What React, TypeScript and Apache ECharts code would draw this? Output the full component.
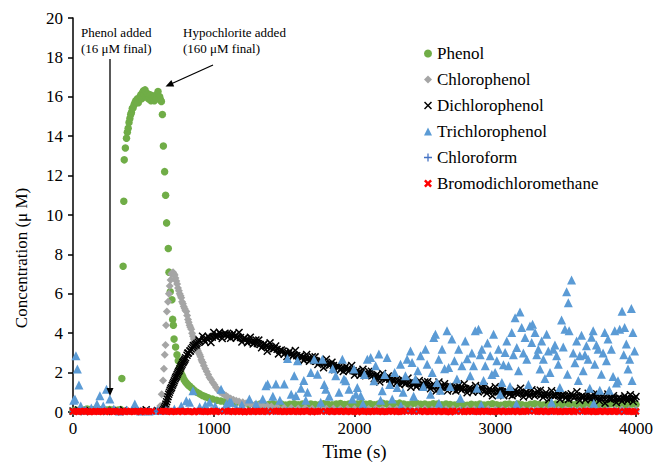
import React, { useEffect, useRef } from "react";
import * as echarts from "echarts";

const FONT = "Liberation Serif";

const xTicks = [0, 1000, 2000, 3000, 4000];
const yTicks = [0, 2, 4, 6, 8, 10, 12, 14, 16, 18, 20];
const seriesNames = ["Phenol", "Chlorophenol", "Dichlorophenol", "Trichlorophenol", "Chloroform", "Bromodichloromethane"];

// [time (s), concentration (µM)]
const phenol: [number, number][] = [
  [0, 0.05], [20, 0.1], [40, 0.08], [60, 0.12], [80, 0.1], [100, 0.15], [120, 0.12], [140, 0.1], [160, 0.14], [180, 0.1],
  [200, 0.12], [220, 0.08], [240, 0.1], [260, 0.12], [280, 0.1], [300, 0.08], [320, 0.1], [340, 0.12],
  [347, 1.7], [356, 7.4], [361, 10.7], [364, 12.8], [372, 13.4], [380, 13.9], [386, 14.2], [392, 14.4], [398, 14.7], [404, 14.9],
  [410, 15.1], [415, 15.2], [421, 15.4], [427, 15.45], [434, 15.6], [440, 15.7], [446, 15.8], [452, 15.75], [458, 15.9], [464, 15.7],
  [470, 15.9], [476, 16.0], [482, 16.1], [488, 15.9], [494, 16.2], [500, 16.3], [506, 16.1], [512, 16.35], [518, 16.2], [524, 16.0],
  [530, 16.15], [536, 15.9], [542, 16.0], [548, 16.1], [554, 15.8], [560, 15.9], [566, 16.05], [572, 15.9], [578, 15.8], [584, 16.0],
  [590, 15.9], [596, 16.1], [604, 16.27], [610, 15.95], [616, 16.0], [622, 15.85], [628, 15.76], [635, 15.1], [642, 13.5], [651, 12.2],
  [658, 11.0], [665, 9.6], [677, 8.3], [682, 7.1], [691, 6.1], [703, 5.7], [708, 4.7], [713, 4.4], [718, 3.7], [729, 3.3],
  [739, 2.9], [748, 2.6], [757, 2.25], [766, 2.0], [775, 1.85], [781, 1.76], [790, 1.62], [800, 1.52], [810, 1.44], [820, 1.36],
  [830, 1.3], [845, 1.2], [860, 1.1], [880, 1.0], [900, 0.92], [920, 0.84], [940, 0.78], [960, 0.72], [990, 0.66], [1020, 0.6],
  [1050, 0.56], [1080, 0.52], [1110, 0.49], [1150, 0.45], [1200, 0.42], [1250, 0.38],
  [1300, 0.36], [1330, 0.4], [1360, 0.34], [1390, 0.38], [1420, 0.42], [1450, 0.36], [1480, 0.4], [1510, 0.35], [1540, 0.39], [1570, 0.42],
  [1600, 0.37], [1630, 0.4], [1660, 0.35], [1690, 0.41], [1720, 0.38], [1750, 0.36], [1780, 0.42], [1810, 0.39], [1840, 0.36], [1870, 0.4],
  [1900, 0.43], [1930, 0.38], [1960, 0.41], [1990, 0.36], [2020, 0.4], [2050, 0.44], [2080, 0.39], [2110, 0.42], [2140, 0.37], [2170, 0.41],
  [2200, 0.44], [2230, 0.4], [2260, 0.38], [2290, 0.42], [2320, 0.45], [2350, 0.4], [2380, 0.37], [2410, 0.42], [2440, 0.44], [2470, 0.39],
  [2500, 0.41], [2530, 0.37], [2560, 0.42], [2590, 0.4], [2620, 0.36], [2650, 0.41], [2680, 0.38], [2710, 0.35], [2740, 0.4], [2770, 0.37],
  [2800, 0.34], [2830, 0.39], [2860, 0.36], [2890, 0.4], [2920, 0.35], [2950, 0.38], [2980, 0.42], [3010, 0.37], [3040, 0.34], [3070, 0.39],
  [3100, 0.41], [3130, 0.36], [3160, 0.4], [3190, 0.37], [3220, 0.34], [3250, 0.39], [3280, 0.42], [3310, 0.38], [3340, 0.35], [3370, 0.4],
  [3400, 0.37], [3430, 0.41], [3460, 0.36], [3490, 0.39], [3520, 0.42], [3550, 0.37], [3580, 0.4], [3610, 0.36], [3640, 0.39], [3670, 0.41],
  [3700, 0.37], [3730, 0.4], [3760, 0.35], [3790, 0.39], [3820, 0.42], [3850, 0.38], [3880, 0.4], [3910, 0.36], [3940, 0.39], [3970, 0.41], [4000, 0.38],
];

const chlorophenol: [number, number][] = [
  [600, 0.05], [612, 0.15], [620, 0.3], [630, 0.9], [640, 1.6], [646, 2.2], [652, 2.9], [657, 3.4], [661, 4.4], [667, 5.1],
  [675, 5.6], [681, 6.0], [687, 6.4], [693, 6.7], [699, 7.0], [705, 7.05], [711, 7.1], [717, 7.0], [722, 6.95], [728, 6.8],
  [734, 6.65], [740, 6.5], [746, 6.3], [752, 6.15], [758, 6.0], [764, 5.9], [769, 5.8], [775, 5.6], [781, 5.5], [787, 5.35],
  [793, 5.25], [799, 5.15], [805, 5.1], [811, 4.9], [817, 4.7], [822, 4.55], [828, 4.4], [834, 4.3], [840, 4.2], [846, 4.0],
  [852, 3.85], [858, 3.7], [864, 3.6], [870, 3.45], [876, 3.36], [882, 3.2], [888, 3.1], [894, 3.0], [900, 2.9], [906, 2.8],
  [912, 2.65], [918, 2.55], [923, 2.5], [930, 2.35], [940, 2.2], [950, 2.05], [960, 1.9], [970, 1.75], [980, 1.65], [993, 1.5],
  [1005, 1.38], [1017, 1.25], [1030, 1.12], [1045, 1.02], [1060, 0.95], [1075, 0.88], [1088, 0.83], [1100, 0.76], [1120, 0.68], [1140, 0.62],
  [1160, 0.57], [1180, 0.53], [1206, 0.49], [1230, 0.44], [1260, 0.4], [1290, 0.36], [1320, 0.34], [1350, 0.32], [1380, 0.3], [1410, 0.28],
  [1450, 0.25], [1500, 0.22], [1550, 0.2], [1600, 0.18], [1650, 0.2], [1700, 0.17], [1750, 0.19], [1800, 0.16], [1850, 0.18], [1900, 0.15],
  [1950, 0.17], [2000, 0.16], [2050, 0.18], [2100, 0.15], [2150, 0.17], [2200, 0.14], [2250, 0.16], [2300, 0.15], [2350, 0.17], [2400, 0.14],
  [2450, 0.16], [2500, 0.15], [2550, 0.13], [2600, 0.16], [2650, 0.14], [2700, 0.15], [2750, 0.13], [2800, 0.15], [2850, 0.14], [2900, 0.12],
  [2950, 0.15], [3000, 0.13], [3050, 0.14], [3100, 0.12], [3150, 0.14], [3200, 0.13], [3250, 0.12], [3300, 0.14], [3350, 0.12], [3400, 0.13],
  [3450, 0.11], [3500, 0.13], [3550, 0.12], [3600, 0.11], [3650, 0.13], [3700, 0.12], [3750, 0.1], [3800, 0.12], [3850, 0.11], [3900, 0.12],
  [3950, 0.1], [4000, 0.12],
];

const dichlorophenol: [number, number][] = [
  [0, 0.05], [40, 0.1], [80, 0.02], [120, 0.08], [160, 0.05], [200, 0.1], [240, 0.03], [280, 0.07], [320, 0.05], [360, 0.1],
  [400, 0.04], [440, 0.08], [480, 0.06], [520, 0.12], [560, 0.05], [600, 0.08],
  [640, 0.05], [645, 0.12], [650, 0.2], [655, 0.3], [660, 0.4], [665, 0.52], [670, 0.65], [675, 0.78], [680, 0.9], [685, 1.0],
  [690, 1.1], [695, 1.18], [700, 1.25], [705, 1.35], [710, 1.42], [715, 1.5], [720, 1.58], [725, 1.68], [730, 1.75], [735, 1.82],
  [740, 1.9], [745, 1.98], [750, 2.05], [755, 2.12], [760, 2.2], [765, 2.28], [770, 2.35], [775, 2.42], [780, 2.5], [785, 2.55],
  [790, 2.62], [795, 2.68], [800, 2.75], [810, 2.88], [820, 3.0], [830, 3.1], [840, 3.2], [850, 3.28], [860, 3.35], [870, 3.42],
  [880, 3.48], [890, 3.54], [900, 3.6], [815, 2.98], [835, 3.1], [855, 3.38], [875, 3.4], [895, 3.66],
  [920, 3.85], [940, 3.55], [960, 3.84], [980, 3.53], [1000, 4.04], [1020, 3.81], [1040, 4.05], [1060, 3.73], [1080, 4.0], [1100, 3.82],
  [1120, 3.74], [1140, 4.0], [1160, 3.76], [1180, 4.04], [1200, 3.55], [1220, 3.76], [1240, 3.51], [1260, 3.8], [1280, 3.45], [1300, 3.66],
  [1320, 3.65], [1340, 3.26], [1360, 3.47], [1380, 3.08], [1400, 3.51], [1420, 3.2], [1440, 3.35], [1460, 2.95], [1480, 3.15], [1500, 2.93],
  [1520, 2.82], [1540, 3.08], [1560, 2.84], [1580, 3.12], [1600, 2.64], [1620, 2.86], [1640, 2.62], [1660, 2.92], [1680, 2.58], [1700, 2.8],
  [1720, 2.8], [1740, 2.41], [1760, 2.62], [1780, 2.24], [1800, 2.68], [1820, 2.37], [1840, 2.53], [1860, 2.14], [1880, 2.35], [1900, 2.14],
  [1920, 2.05], [1940, 2.32], [1960, 2.08], [1980, 2.36], [2000, 1.88], [2020, 2.1], [2040, 1.86], [2060, 2.17], [2080, 1.84], [2100, 2.06],
  [2120, 2.07], [2140, 1.69], [2160, 1.9], [2180, 1.52], [2200, 1.96], [2220, 1.66], [2240, 1.83], [2260, 1.45], [2280, 1.67], [2300, 1.47],
  [2320, 1.38], [2340, 1.65], [2360, 1.42], [2380, 1.72], [2400, 1.26], [2420, 1.5], [2440, 1.28], [2460, 1.6], [2480, 1.28], [2500, 1.52],
  [2520, 1.54], [2540, 1.18], [2560, 1.42], [2580, 1.06], [2600, 1.52], [2620, 1.24], [2640, 1.43], [2660, 1.07], [2680, 1.31], [2700, 1.13],
  [2720, 1.06], [2740, 1.34], [2760, 1.12], [2780, 1.43], [2800, 0.98], [2820, 1.22], [2840, 1.01], [2860, 1.34], [2880, 1.02], [2900, 1.27],
  [2920, 1.3], [2940, 0.94], [2960, 1.18], [2980, 0.82], [3000, 1.28], [3020, 1.0], [3040, 1.19], [3060, 0.83], [3080, 1.07], [3100, 0.89],
  [3120, 0.82], [3140, 1.11], [3160, 0.9], [3180, 1.21], [3200, 0.76], [3220, 1.01], [3240, 0.8], [3260, 1.13], [3280, 0.82], [3300, 1.07],
  [3320, 1.1], [3340, 0.74], [3360, 0.98], [3380, 0.62], [3400, 1.08], [3420, 0.8], [3440, 0.99], [3460, 0.64], [3480, 0.88], [3500, 0.71],
  [3520, 0.64], [3540, 0.93], [3560, 0.72], [3580, 1.03], [3600, 0.58], [3620, 0.83], [3640, 0.62], [3660, 0.95], [3680, 0.64], [3700, 0.9],
  [3720, 0.93], [3740, 0.57], [3760, 0.81], [3780, 0.45], [3800, 0.92], [3820, 0.64], [3840, 0.83], [3860, 0.48], [3880, 0.72], [3900, 0.55],
  [3920, 0.82], [3940, 0.57], [3960, 0.88], [3980, 0.53], [4000, 0.79],
  [930, 3.67], [950, 3.72], [970, 3.76], [990, 3.8], [1010, 3.84], [1030, 3.88], [1050, 3.92], [1070, 3.94], [1090, 3.95], [1110, 3.93],
  [1130, 3.9], [1150, 3.86], [1170, 3.82], [1190, 3.78], [1210, 3.72], [1230, 3.68], [1250, 3.62], [1270, 3.58], [1290, 3.52], [1310, 3.48],
  [1330, 3.43], [1350, 3.39], [1370, 3.35], [1390, 3.31], [1410, 3.27], [1430, 3.22], [1450, 3.18], [1470, 3.12], [1490, 3.08], [1510, 3.02],
  [1530, 2.98], [1550, 2.94], [1570, 2.9], [1590, 2.86], [1610, 2.82], [1630, 2.78], [1650, 2.74], [1670, 2.7], [1690, 2.66], [1710, 2.62],
  [1730, 2.58], [1750, 2.54], [1770, 2.5], [1790, 2.47], [1810, 2.44], [1830, 2.4], [1850, 2.36], [1870, 2.32], [1890, 2.28], [1910, 2.24],
  [1930, 2.21], [1950, 2.18], [1970, 2.14], [1990, 2.1], [2010, 2.06], [2030, 2.02], [2050, 1.98], [2070, 1.95], [2090, 1.92], [2110, 1.88],
  [2130, 1.85], [2150, 1.82], [2170, 1.78], [2190, 1.75], [2210, 1.72], [2230, 1.7], [2250, 1.66], [2270, 1.63], [2290, 1.6], [2310, 1.58],
  [2330, 1.55], [2350, 1.52], [2370, 1.49], [2390, 1.47], [2410, 1.45], [2430, 1.43], [2450, 1.41], [2470, 1.39], [2490, 1.37], [2510, 1.35],
  [2530, 1.33], [2550, 1.32], [2570, 1.31], [2590, 1.3], [2610, 1.29], [2630, 1.28], [2650, 1.27], [2670, 1.26], [2690, 1.25], [2710, 1.24],
  [2730, 1.23], [2750, 1.21], [2770, 1.2], [2790, 1.18], [2810, 1.17], [2830, 1.15], [2850, 1.14], [2870, 1.13], [2890, 1.11], [2910, 1.1],
  [2930, 1.09], [2950, 1.08], [2970, 1.07], [2990, 1.06], [3010, 1.05], [3030, 1.04], [3050, 1.03], [3070, 1.02], [3090, 1.01], [3110, 1.0],
  [3130, 0.99], [3150, 0.98], [3170, 0.97], [3190, 0.96], [3210, 0.95], [3230, 0.94], [3250, 0.93], [3270, 0.92], [3290, 0.91], [3310, 0.9],
  [3330, 0.89], [3350, 0.88], [3370, 0.87], [3390, 0.86], [3410, 0.85], [3430, 0.85], [3450, 0.84], [3470, 0.83], [3490, 0.83], [3510, 0.82],
  [3530, 0.81], [3550, 0.8], [3570, 0.79], [3590, 0.78], [3610, 0.77], [3630, 0.76], [3650, 0.75], [3670, 0.75], [3690, 0.74], [3710, 0.73],
  [3730, 0.72], [3750, 0.71], [3770, 0.7], [3790, 0.7], [3810, 0.69], [3830, 0.68], [3850, 0.68], [3870, 0.67], [3890, 0.67], [3910, 0.67],
  [3930, 0.67], [3950, 0.68], [3970, 0.68], [3990, 0.69],
];

const trichlorophenol: [number, number][] = [
  [5, 0.6], [14, 0.66], [21, 2.85], [31, 2.18], [42, 1.37], [55, 0.3], [90, 0.1], [130, 0.2], [170, 0.4], [191, 0.83],
  [215, 0.3], [238, 1.16], [262, 0.66], [290, 0.15], [330, 0.05], [380, 0.1], [439, 0.4], [480, 0.05], [540, 0.05], [600, 0.08],
  [660, 0.1], [720, 0.15], [769, 0.3], [805, 0.57], [828, 0.5], [852, 1.08], [900, 0.25], [940, 0.35], [970, 0.5], [1010, 0.3],
  [1052, 1.16], [1090, 0.4], [1112, 0.5], [1123, 0.49], [1160, 0.2], [1200, 0.35], [1253, 0.66], [1300, 0.4], [1348, 0.66], [1371, 1.33],
  [1383, 1.42], [1420, 0.8], [1442, 1.42], [1470, 0.6], [1501, 1.42], [1524, 2.72], [1550, 0.9], [1572, 1.84], [1584, 0.83], [1595, 2.6],
  [1620, 1.2], [1640, 1.6], [1654, 0.6], [1666, 1.0], [1690, 2.0], [1713, 2.68], [1737, 1.92], [1760, 0.5], [1772, 2.68], [1785, 1.4],
  [1796, 1.16], [1820, 0.8], [1845, 2.2], [1867, 1.84], [1890, 1.0], [1914, 2.68], [1925, 1.67], [1938, 1.59], [1961, 1.16], [1985, 0.66],
  [1996, 2.18], [2010, 0.9], [2020, 1.25], [2044, 0.83], [2060, 0.4], [2070, 1.9], [2091, 2.68], [2115, 2.77], [2138, 1.59], [2150, 2.35],
  [2173, 2.94], [2185, 0.6], [2197, 1.08], [2215, 1.9], [2232, 2.77], [2250, 1.4], [2268, 0.66], [2285, 2.0], [2303, 1.25], [2327, 2.43],
  [2330, 0.3], [2345, 1.0], [2362, 1.84], [2374, 2.68], [2398, 3.1], [2409, 2.51], [2420, 0.8], [2433, 1.67], [2450, 2.1], [2469, 2.85],
  [2490, 1.3], [2504, 3.19], [2516, 2.43], [2540, 0.9], [2552, 2.0], [2563, 3.78], [2575, 3.95], [2586, 1.5], [2598, 2.68], [2600, 0.45],
  [2610, 1.1], [2622, 3.19], [2640, 2.2], [2657, 4.12], [2669, 2.26], [2680, 1.3], [2692, 3.7], [2710, 2.6], [2728, 1.67], [2740, 3.19],
  [2752, 0.7], [2763, 2.35], [2787, 3.61], [2800, 2.7], [2822, 1.84], [2834, 3.0], [2846, 2.35], [2858, 4.12], [2870, 1.2], [2881, 4.2],
  [2893, 2.9], [2900, 0.35], [2905, 3.19], [2917, 1.6], [2929, 2.35], [2945, 3.5], [2964, 2.85], [2976, 1.9], [2988, 3.95], [2999, 2.0],
  [3011, 2.6], [3023, 3.19], [3035, 0.9], [3047, 1.5], [3058, 2.4], [3070, 3.02], [3082, 3.6], [3094, 2.35], [3105, 1.3], [3117, 4.03],
  [3129, 2.9], [3141, 4.79], [3150, 0.4], [3153, 3.27], [3165, 2.1], [3176, 5.08], [3188, 4.29], [3200, 3.0], [3212, 3.78], [3224, 2.68],
  [3236, 1.4], [3247, 4.37], [3259, 3.53], [3265, 4.46], [3283, 4.03], [3295, 2.9], [3306, 3.19], [3318, 2.18], [3330, 3.6], [3342, 2.68],
  [3353, 1.7], [3365, 3.95], [3377, 3.1], [3389, 2.0], [3400, 0.5], [3412, 3.19], [3424, 3.4], [3436, 2.85], [3448, 2.43], [3459, 1.25],
  [3471, 4.67], [3483, 3.3], [3495, 4.2], [3507, 6.11], [3513, 1.92], [3519, 5.55], [3525, 4.12], [3542, 6.7], [3554, 3.0], [3566, 2.5],
  [3578, 3.61], [3590, 1.6], [3601, 2.85], [3613, 3.9], [3625, 2.1], [3637, 2.9], [3648, 3.36], [3660, 2.68], [3672, 1.2], [3684, 3.8],
  [3696, 4.12], [3700, 0.45], [3707, 2.43], [3719, 3.4], [3731, 3.19], [3743, 1.1], [3754, 1.92], [3766, 3.0], [3778, 4.03], [3790, 2.6],
  [3801, 3.7], [3810, 1.1], [3825, 3.19], [3837, 1.8], [3849, 4.12], [3861, 1.47], [3872, 1.59], [3884, 4.2], [3901, 5.11], [3913, 2.9],
  [3919, 4.29], [3931, 3.45], [3943, 2.18], [3955, 2.68], [3967, 5.25], [3972, 1.6], [3978, 4.03], [3990, 3.1],
];

// sampling times for the two trace by-products (s)
const sampleTimes = [
  0, 20, 40, 60, 80, 100, 120, 140, 160, 180,
  200, 220, 240, 260, 280, 300, 320, 340, 360, 380,
  400, 420, 440, 460, 480, 500, 520, 540, 560, 580,
  600, 620, 640, 660, 680, 700, 720, 740, 760, 780,
  800, 820, 840, 860, 880, 900, 920, 940, 960, 980,
  1000, 1020, 1040, 1060, 1080, 1100, 1120, 1140, 1160, 1180,
  1200, 1220, 1240, 1260, 1280, 1300, 1320, 1340, 1360, 1380,
  1400, 1420, 1440, 1460, 1480, 1500, 1520, 1540, 1560, 1580,
  1600, 1620, 1640, 1660, 1680, 1700, 1720, 1740, 1760, 1780,
  1800, 1820, 1840, 1860, 1880, 1900, 1920, 1940, 1960, 1980,
  2000, 2020, 2040, 2060, 2080, 2100, 2120, 2140, 2160, 2180,
  2200, 2220, 2240, 2260, 2280, 2300, 2320, 2340, 2360, 2380,
  2400, 2420, 2440, 2460, 2480, 2500, 2520, 2540, 2560, 2580,
  2600, 2620, 2640, 2660, 2680, 2700, 2720, 2740, 2760, 2780,
  2800, 2820, 2840, 2860, 2880, 2900, 2920, 2940, 2960, 2980,
  3000, 3020, 3040, 3060, 3080, 3100, 3120, 3140, 3160, 3180,
  3200, 3220, 3240, 3260, 3280, 3300, 3320, 3340, 3360, 3380,
  3400, 3420, 3440, 3460, 3480, 3500, 3520, 3540, 3560, 3580,
  3600, 3620, 3640, 3660, 3680, 3700, 3720, 3740, 3760, 3780,
  3800, 3820, 3840, 3860, 3880, 3900, 3920, 3940, 3960, 3980,
  4000,
];

const chloroformValues = [
  0.03, 0.05, 0.02, 0.04, 0.06, 0.03, 0.05, 0.02, 0.04, 0.03,
  0.05, 0.02, 0.04, 0.06, 0.03, 0.05, 0.03, 0.04, 0.02, 0.05,
  0.03, 0.06, 0.04, 0.02, 0.05, 0.03, 0.04, 0.06, 0.03, 0.05,
  0.04, 0.06, 0.03, 0.05, 0.02, 0.04, 0.06, 0.03, 0.05, 0.04,
  0.02, 0.05, 0.03, 0.06, 0.04, 0.03, 0.05, 0.02, 0.04, 0.06,
  0.03, 0.05, 0.04, 0.06, 0.02, 0.05, 0.03, 0.04, 0.06, 0.03,
  0.05, 0.02, 0.04, 0.06, 0.03, 0.05, 0.04, 0.02, 0.05, 0.03,
  0.06, 0.04, 0.03, 0.05, 0.02, 0.04, 0.06, 0.03, 0.05, 0.04,
  0.02, 0.05, 0.03, 0.06, 0.04, 0.03, 0.05, 0.02, 0.06, 0.04,
  0.03, 0.05, 0.04, 0.02, 0.06, 0.03, 0.05, 0.04, 0.02, 0.05,
  0.03, 0.06, 0.04, 0.03, 0.05, 0.02, 0.04, 0.06, 0.03, 0.05,
  0.04, 0.02, 0.05, 0.03, 0.06, 0.04, 0.03, 0.05, 0.02, 0.06,
  0.04, 0.03, 0.05, 0.04, 0.02, 0.06, 0.03, 0.05, 0.04, 0.02,
  0.05, 0.03, 0.06, 0.04, 0.03, 0.05, 0.02, 0.04, 0.06, 0.03,
  0.05, 0.04, 0.02, 0.05, 0.03, 0.06, 0.04, 0.03, 0.05, 0.02,
  0.04, 0.06, 0.03, 0.05, 0.04, 0.02, 0.05, 0.03, 0.06, 0.04,
  0.03, 0.05, 0.02, 0.04, 0.06, 0.03, 0.05, 0.04, 0.02, 0.05,
  0.03, 0.06, 0.04, 0.03, 0.05, 0.02, 0.04, 0.06, 0.03, 0.05,
  0.04, 0.02, 0.05, 0.03, 0.06, 0.04, 0.03, 0.05, 0.02, 0.06,
  0.04, 0.03, 0.05, 0.04, 0.02, 0.06, 0.03, 0.05, 0.04, 0.02,
  0.05,
];

const bromodichloromethaneValues: (number | null)[] = [
  0.02, 0.04, 0.01, 0.03, 0.05, 0.02, 0.0, 0.03, 0.04, 0.01,
  0.03, 0.02, 0.05, 0.01, 0.03, 0.04, 0.02, 0.0, 0.03, 0.05,
  0.01, 0.03, 0.02, 0.04, 0.01, 0.05, 0.03, 0.02, 0.04, null,
  null, 0.03, 0.05, 0.02, 0.04, 0.01, 0.03, 0.02, 0.05, 0.01,
  0.04, 0.02, 0.03, 0.0, 0.05, 0.02, 0.04, 0.01, 0.03, 0.02,
  0.05, 0.01, 0.03, null, 0.04, 0.02, 0.05, 0.01, 0.03, 0.04,
  0.02, 0.0, 0.03, 0.05, 0.01, 0.04, 0.02, 0.03, 0.05, 0.01,
  null, 0.04, 0.02, 0.05, 0.03, 0.01, 0.04, 0.02, 0.03, 0.05,
  0.01, 0.03, 0.04, 0.02, 0.05, 0.0, 0.03, 0.02, 0.04, null,
  0.03, 0.05, 0.01, 0.04, 0.02, 0.03, 0.05, 0.01, 0.04, 0.02,
  0.03, 0.0, 0.05, 0.02, 0.04, 0.01, 0.03, 0.05, 0.02, 0.04,
  0.01, 0.03, 0.02, 0.05, 0.04, 0.01, 0.03, 0.02, 0.05, null,
  0.04, 0.02, null, 0.03, 0.05, 0.01, 0.04, 0.02, 0.03, 0.05,
  0.01, 0.04, 0.02, 0.03, 0.0, 0.05, 0.02, null, 0.04, 0.01,
  0.03, 0.05, 0.02, 0.04, 0.01, 0.03, 0.05, 0.02, 0.04, 0.01,
  0.03, 0.02, 0.05, 0.01, 0.04, 0.03, 0.02, 0.05, 0.01, 0.04,
  0.02, 0.03, 0.05, null, 0.04, 0.02, 0.03, 0.05, 0.01, 0.04,
  0.02, 0.05, 0.03, 0.01, 0.04, 0.02, 0.03, 0.05, 0.01, 0.04,
  null, 0.03, 0.05, 0.02, 0.04, 0.01, 0.03, 0.02, 0.05, 0.01,
  0.04, 0.02, 0.03, 0.05, 0.01, null, 0.02, 0.04, 0.03, 0.01,
  0.03,
];

const colors = ["#70AD47", "#A5A5A5", "#000000", "#5B9BD5", "#4472C4", "#FF0000"];

const X_THIN = "path://M0,1.3L1.3,0L5,3.7L8.7,0L10,1.3L6.3,5L10,8.7L8.7,10L5,6.3L1.3,10L0,8.7L3.7,5Z";
const PLUS = "path://M4.2,0H5.8V4.2H10V5.8H5.8V10H4.2V5.8H0V4.2H4.2Z";
const X_THICK = "path://M0,2.2L2.2,0L5,2.8L7.8,0L10,2.2L7.2,5L10,7.8L7.8,10L5,7.2L2.2,10L0,7.8L2.8,5Z";

const pairs = (times: number[], vals: (number | null)[]) =>
  times.map((t, i) => [t, vals[i]]).filter((p) => p[1] !== null);

export default function App() {
  const ref = useRef<HTMLDivElement>(null);

  useEffect(() => {
    const chart = echarts.init(ref.current!, null, { renderer: "svg" });
    const axisText = { color: "#000", fontFamily: FONT, fontSize: 17 };
    const mk = (i: number, data: any[], symbol: string, size: number) => ({
      name: seriesNames[i],
      type: "scatter",
      data,
      symbol,
      symbolSize: size,
      itemStyle: { color: colors[i], opacity: 1 },
      emphasis: { disabled: true },
    });
    chart.setOption({
      animation: false,
      backgroundColor: "#fff",
      textStyle: { fontFamily: FONT },
      grid: { left: 73, right: 18, top: 18, bottom: 53, containLabel: false },
      xAxis: {
        type: "value",
        min: xTicks[0],
        max: xTicks[xTicks.length - 1],
        interval: xTicks[1] - xTicks[0],
        name: "Time (s)",
        nameLocation: "middle",
        nameGap: 30,
        nameTextStyle: { ...axisText, fontSize: 19 },
        axisLine: { show: true, onZero: false, lineStyle: { color: "#000", width: 1.5 } },
        axisTick: { show: true, inside: false, length: 5, lineStyle: { color: "#000", width: 1.5 } },
        axisLabel: { ...axisText, margin: 8, formatter: (v: number) => String(v) },
        splitLine: { show: false },
      },
      yAxis: {
        type: "value",
        min: yTicks[0],
        max: yTicks[yTicks.length - 1],
        interval: yTicks[1] - yTicks[0],
        axisLine: { show: true, onZero: false, lineStyle: { color: "#000", width: 1.5 } },
        axisTick: { show: true, inside: false, length: 5, lineStyle: { color: "#000", width: 1.5 } },
        axisLabel: { ...axisText, margin: 10, formatter: (v: number) => String(v) },
        splitLine: { show: false },
      },
      legend: {
        orient: "vertical",
        left: 419,
        top: 40,
        itemGap: 9,
        itemWidth: 8,
        itemHeight: 8,
        selectedMode: false,
        textStyle: { color: "#000", fontFamily: FONT, fontSize: 17 },
        data: seriesNames,
      },
      series: [
        mk(0, phenol, "circle", 7.5),
        mk(1, chlorophenol, "diamond", 8),
        mk(2, dichlorophenol, X_THIN, 8),
        mk(3, trichlorophenol, "triangle", 9),
        mk(4, pairs(sampleTimes, chloroformValues), PLUS, 7),
        mk(5, pairs(sampleTimes, bromodichloromethaneValues), X_THICK, 7.5),
      ],
      graphic: [
        {
          type: "text", x: 21, y: 258, rotation: Math.PI / 2, z: 100,
          style: { text: "Concentration (μ M)", fill: "#000", font: `17px ${FONT}`, align: "center", verticalAlign: "middle" },
        },
        { type: "text", x: 81, y: 32, z: 100, style: { text: "Phenol added", fill: "#000", font: `13px ${FONT}`, verticalAlign: "middle" } },
        { type: "text", x: 81, y: 48, z: 100, style: { text: "(16 μM final)", fill: "#000", font: `13px ${FONT}`, verticalAlign: "middle" } },
        { type: "text", x: 183, y: 32, z: 100, style: { text: "Hypochlorite added", fill: "#000", font: `13px ${FONT}`, verticalAlign: "middle" } },
        { type: "text", x: 183, y: 48, z: 100, style: { text: "(160 μM final)", fill: "#000", font: `13px ${FONT}`, verticalAlign: "middle" } },
        { type: "line", z: 100, shape: { x1: 110, y1: 59, x2: 110, y2: 390 }, style: { stroke: "#000", lineWidth: 1.3 } },
        { type: "polygon", z: 100, shape: { points: [[106.5, 388], [113.5, 388], [110, 396]] }, style: { fill: "#000" } },
        { type: "line", z: 100, shape: { x1: 213, y1: 65, x2: 172, y2: 83.5 }, style: { stroke: "#000", lineWidth: 1.3 } },
        { type: "polygon", z: 100, shape: { points: [[165.5, 86.5], [174.2, 86.4], [171.4, 80.0]] }, style: { fill: "#000" } },
      ],
    });
    return () => chart.dispose();
  }, []);

  return (
    <div
      ref={ref}
      style={{ position: "fixed", left: 0, top: 0, width: 656, height: 466, background: "#fff" }}
    />
  );
}
